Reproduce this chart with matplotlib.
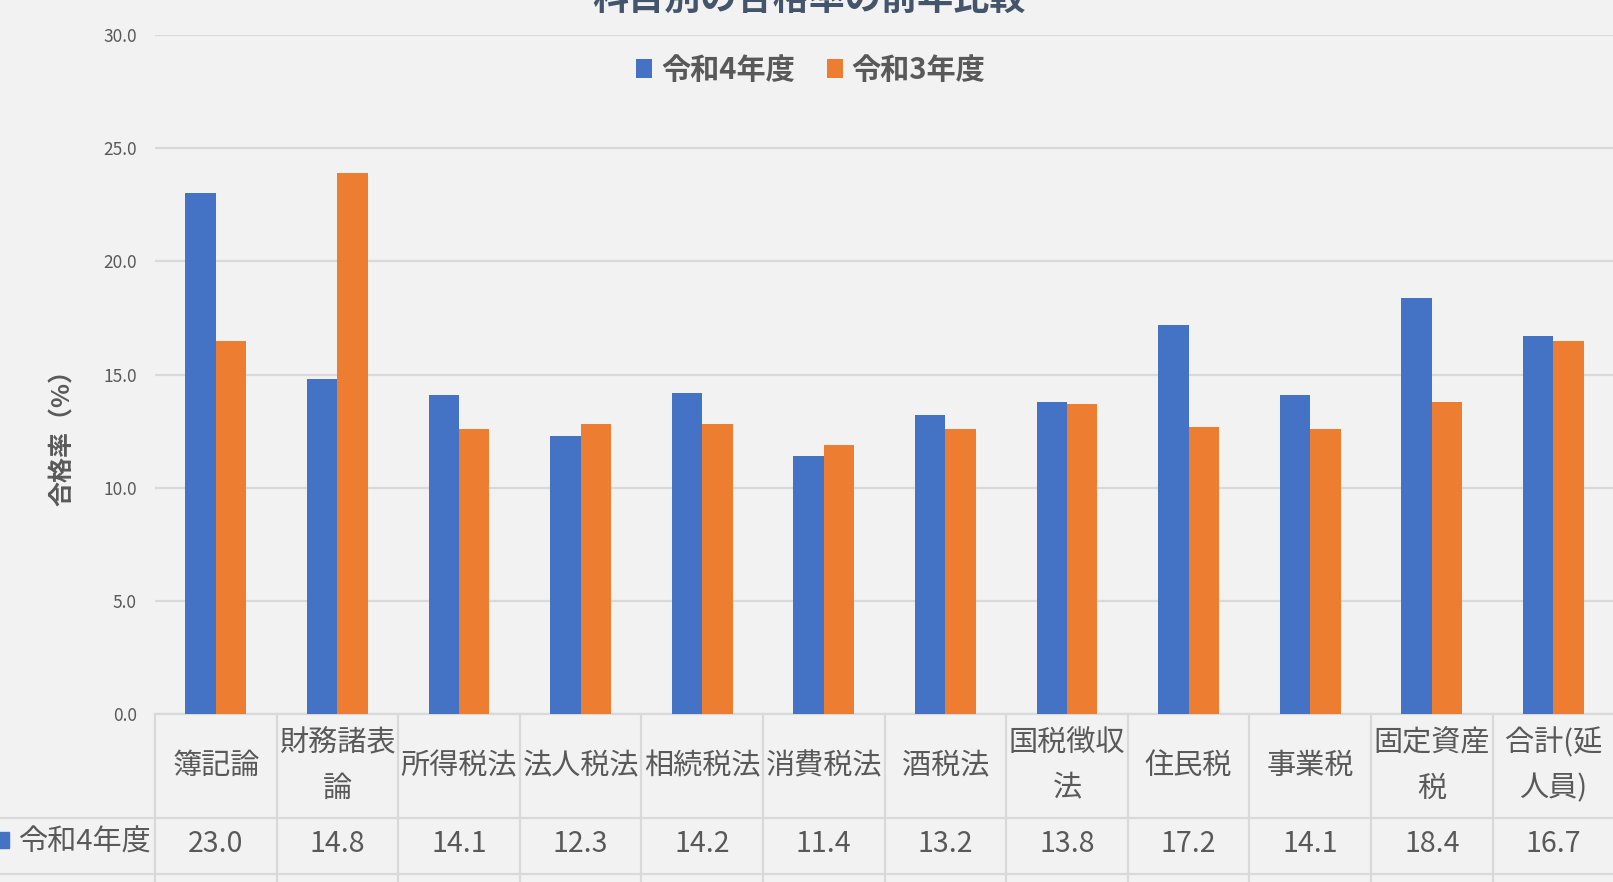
import numpy as np
import matplotlib.pyplot as plt
from matplotlib.patches import Rectangle

plt.rcParams['font.family'] = ['Noto Sans CJK JP', 'DejaVu Sans']

# データ
categories = ['簿記論', '財務諸表\n論', '所得税法', '法人税法', '相続税法', '消費税法',
              '酒税法', '国税徴収\n法', '住民税', '事業税', '固定資産\n税', '合計(延\n人員)']
r4 = [23.0, 14.8, 14.1, 12.3, 14.2, 11.4, 13.2, 13.8, 17.2, 14.1, 18.4, 16.7]
r3 = [16.5, 23.9, 12.6, 12.8, 12.8, 11.9, 12.6, 13.7, 12.7, 12.6, 13.8, 16.5]
series_names = ['令和4年度', '令和3年度']
yticks = [0, 5, 10, 15, 20, 25, 30]

blue = '#4472C4'
orange = '#ED7D31'
bg = '#F2F2F2'
grid = '#D9D9D9'
txt = '#595959'

W, H = 1613, 882
fig = plt.figure(figsize=(W / 100, H / 100), dpi=100, facecolor=bg)
ax = fig.add_axes([155 / W, (H - 714) / H, 12 * 121.6 / W, 679 / H], facecolor=bg)

x = np.arange(len(categories))
bw = 0.25
b1 = ax.bar(x - bw / 2, r4, bw, color=blue, label=series_names[0], zorder=3)
b2 = ax.bar(x + bw / 2, r3, bw, color=orange, label=series_names[1], zorder=3)

ax.set_xlim(-0.5, len(categories) - 0.5)
ax.set_ylim(0, 30)
ax.set_yticks(yticks)
ax.set_yticklabels([f'{v:.1f}' for v in yticks], color=txt, fontsize=12.5)
ax.set_xticks([])
ax.tick_params(axis='y', length=0, pad=13)
for s in ax.spines.values():
    s.set_visible(False)
ax.yaxis.grid(True, color=grid, lw=1.6, zorder=0)
ax.set_axisbelow(True)

ax.set_ylabel('合格率（%）', fontsize=18, fontweight='bold', color=txt)
ax.yaxis.set_label_coords(75 / W, (H - 431) / H, transform=fig.transFigure)

# データテーブル（令和4年度の行まで表示、下は切れる）
trans = ax.get_xaxis_transform()
px = 1 / 679  # 軸の高さ1pxあたり
row1 = -104 * px
row2 = -160 * px
row3 = -216 * px
kw = dict(color=grid, lw=1.6, clip_on=False, transform=trans)
ax.plot([-0.5, 11.5], [0, 0], **kw)
for xb in np.arange(-0.5, len(categories), 1.0):
    ax.plot([xb, xb], [0, -0.4], **kw)
for yr in [row1, row2, row3]:
    ax.plot([-2.0, 11.5], [yr, yr], **kw)

for i, c in enumerate(categories):
    ax.text(i, -52 * px, c, ha='center', va='center', fontsize=21, color=txt,
            linespacing=1.65, transform=trans, clip_on=False)
    ax.text(i, -130 * px, f'{r4[i]:.1f}', ha='center', va='center', fontsize=20.5,
            color=txt, transform=trans, clip_on=False)

fig.text(18 / W, (H - 843) / H, series_names[0], ha='left', va='center',
         fontsize=21, color=txt)
fig.patches.append(Rectangle((-7 / W, (H - 848) / H), 16 / W, 16 / H,
                             color=blue, transform=fig.transFigure))

# タイトルと凡例
fig.text(809 / W, 1 + 1 / H, '科目別の合格率の前年比較', ha='center', va='center',
         fontsize=26, fontweight='bold', color='#44546A')
leg = ax.legend(handles=[b1, b2], loc='center', ncol=2, frameon=False,
                bbox_to_anchor=(811 / W, 1 - 70 / H), bbox_transform=fig.transFigure,
                prop={'weight': 'bold', 'size': 21}, handlelength=0.55,
                handleheight=0.6, handletextpad=0.3, columnspacing=1.1, borderpad=0)
for t in leg.get_texts():
    t.set_color(txt)

fig.savefig('out.png', dpi=100, facecolor=bg)
